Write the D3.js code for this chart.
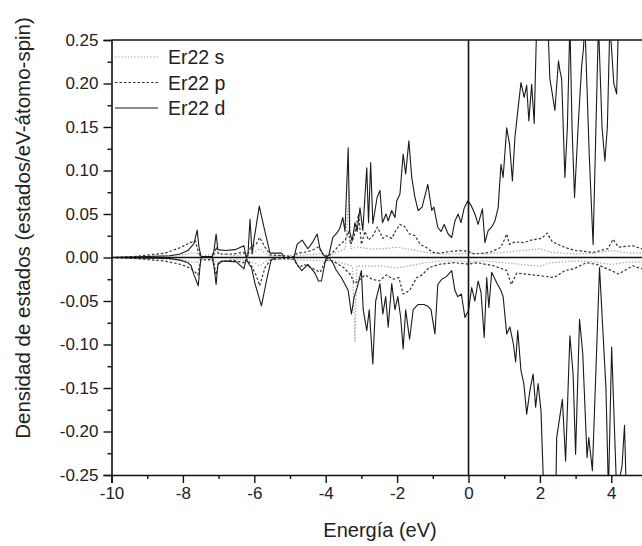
<!DOCTYPE html>
<html>
<head>
<meta charset="utf-8">
<script src="https://cdn.jsdelivr.net/npm/d3@7"></script>
<style>
  body { margin: 0; background: #fff; }
  svg { font-family: Arial, "Liberation Sans", sans-serif; }
</style>
</head>
<body>
<svg id="chart" width="642" height="546"></svg>
<script>
// axis ticks
const xMajor = [-10, -8, -6, -4, -2, 0, 2, 4];
const xMinor = [-9, -7, -5, -3, -1, 1, 3, 5];
const yMajor = [-0.25, -0.20, -0.15, -0.10, -0.05, 0.00, 0.05, 0.10, 0.15, 0.20, 0.25];
const yMinor = [-0.225, -0.175, -0.125, -0.075, -0.025, 0.025, 0.075, 0.125, 0.175, 0.225];

const seriesNames = ["Er22 s", "Er22 p", "Er22 d"];

// [energy (eV), DOS]
const dUp = [
  [-10, 0], [-9.4, 0.0005], [-8.36, 0.002], [-8.08, 0.004], [-7.86, 0.008], [-7.69, 0.016],
  [-7.6, 0.0315], [-7.55, 0.012], [-7.49, 0.001], [-7.18, 0.001], [-7.13, 0.008], [-7.07, 0.027],
  [-7.02, 0.009], [-6.82, 0.008], [-6.54, 0.009], [-6.29, 0.0135], [-6.23, 0.001], [-6.18, 0.002],
  [-6.12, 0.044], [-6.06, 0.004], [-6.01, 0.02], [-5.86, 0.059], [-5.73, 0.035], [-5.56, 0.005],
  [-5.39, 0.005], [-5.23, 0.005], [-5.17, 0], [-4.89, 0], [-4.8, 0.015], [-4.66, 0.02],
  [-4.5, 0.01], [-4.36, 0.018], [-4.24, 0.027], [-4.16, 0.01], [-4.08, 0.004], [-3.99, 0],
  [-3.91, 0.003], [-3.8, 0.023], [-3.69, 0.028], [-3.61, 0.033], [-3.52, 0.046], [-3.46, 0.03],
  [-3.37, 0.126], [-3.33, 0.03], [-3.26, 0.019], [-3.18, 0.04], [-3.12, 0.03], [-3.04, 0.057],
  [-2.96, 0.031], [-2.85, 0.103], [-2.8, 0.04], [-2.74, 0.109], [-2.68, 0.039], [-2.56, 0.069],
  [-2.48, 0.077], [-2.41, 0.04], [-2.31, 0.05], [-2.25, 0.042], [-2.15, 0.054], [-2.06, 0.046],
  [-2.01, 0.065], [-1.92, 0.073], [-1.83, 0.119], [-1.76, 0.096], [-1.67, 0.134], [-1.59, 0.092],
  [-1.5, 0.069], [-1.41, 0.054], [-1.3, 0.058], [-1.14, 0.084], [-1.03, 0.054], [-0.97, 0.058],
  [-0.86, 0.0345], [-0.77, 0.03], [-0.68, 0.038], [-0.57, 0.027], [-0.47, 0.023], [-0.38, 0.042],
  [-0.29, 0.05], [-0.21, 0.04], [-0.12, 0.057], [-0.02, 0.065], [0.07, 0.06], [0.18, 0.05],
  [0.27, 0.038], [0.39, 0.056], [0.46, 0.017], [0.55, 0.031], [0.65, 0.035], [0.74, 0.042],
  [0.83, 0.057], [0.91, 0.107], [0.97, 0.092], [1.07, 0.149], [1.15, 0.13], [1.23, 0.088],
  [1.3, 0.138], [1.39, 0.172], [1.47, 0.201], [1.56, 0.184], [1.63, 0.198], [1.69, 0.157],
  [1.77, 0.199], [1.84, 0.154], [1.91, 0.27], [2.0, 0.35], [2.15, 0.35], [2.23, 0.26],
  [2.28, 0.205], [2.34, 0.19], [2.42, 0.169], [2.52, 0.226], [2.56, 0.215], [2.61, 0.205],
  [2.7, 0.092], [2.77, 0.15], [2.84, 0.27], [2.9, 0.15], [2.97, 0.069], [3.07, 0.15],
  [3.17, 0.22], [3.22, 0.24], [3.26, 0.27], [3.38, 0.12], [3.49, 0.015], [3.57, 0.15],
  [3.64, 0.27], [3.74, 0.15], [3.82, 0.111], [3.89, 0.15], [3.96, 0.27], [4.07, 0.2],
  [4.15, 0.188], [4.2, 0.27], [4.52, 0.35], [5, 0.35]
];

const dDown = [
  [-10, 0], [-8.4, -0.001], [-8.08, -0.003], [-7.86, -0.006], [-7.77, -0.0095], [-7.69, -0.02],
  [-7.57, -0.0325], [-7.52, -0.01], [-7.49, 0], [-7.18, 0], [-7.13, -0.01], [-7.07, -0.031],
  [-7.02, -0.008], [-6.9, -0.004], [-6.5, -0.005], [-6.29, -0.013], [-6.23, -0.002], [-6.14, -0.008],
  [-6.08, -0.0115], [-5.98, -0.03], [-5.8, -0.0555], [-5.65, -0.025], [-5.53, -0.003], [-5.4, 0],
  [-4.9, 0], [-4.8, -0.008], [-4.67, -0.015], [-4.5, -0.008], [-4.3, -0.018], [-4.2, -0.027],
  [-4.12, -0.027], [-4.0, -0.002], [-3.91, 0], [-3.8, -0.006], [-3.7, -0.015], [-3.56, -0.023],
  [-3.37, -0.038], [-3.28, -0.065], [-3.2, -0.045], [-3.12, -0.035], [-3.0, -0.015], [-2.95, -0.06],
  [-2.85, -0.084], [-2.78, -0.06], [-2.68, -0.1225], [-2.6, -0.05], [-2.48, -0.03], [-2.4, -0.065],
  [-2.32, -0.045], [-2.25, -0.08], [-2.15, -0.03], [-2.06, -0.06], [-1.98, -0.045], [-1.9, -0.069],
  [-1.83, -0.105], [-1.76, -0.06], [-1.65, -0.094], [-1.55, -0.06], [-1.41, -0.054], [-1.25, -0.054],
  [-1.14, -0.056], [-1.05, -0.06], [-0.94, -0.088], [-0.86, -0.031], [-0.75, -0.025], [-0.62, -0.022],
  [-0.47, -0.015], [-0.38, -0.038], [-0.3, -0.045], [-0.2, -0.042], [-0.1, -0.069], [0.0, -0.061],
  [0.09, -0.0345], [0.18, -0.05], [0.27, -0.027], [0.35, -0.04], [0.44, -0.092], [0.51, -0.023],
  [0.57, -0.0575], [0.65, -0.017], [0.8, -0.03], [0.91, -0.038], [0.97, -0.045], [1.07, -0.088],
  [1.16, -0.08], [1.26, -0.1], [1.32, -0.12], [1.38, -0.084], [1.47, -0.13], [1.55, -0.145],
  [1.63, -0.18], [1.72, -0.153], [1.81, -0.134], [1.88, -0.172], [1.95, -0.145], [2.03, -0.176],
  [2.1, -0.26], [2.2, -0.35], [2.4, -0.3], [2.45, -0.26], [2.47, -0.207], [2.63, -0.163],
  [2.72, -0.234], [2.84, -0.09], [2.93, -0.134], [3.0, -0.226], [3.11, -0.071], [3.2, -0.11],
  [3.32, -0.23], [3.37, -0.207], [3.47, -0.245], [3.67, -0.0115], [3.85, -0.15], [3.92, -0.27],
  [4.01, -0.103], [4.15, -0.27], [4.3, -0.24], [4.37, -0.193], [4.42, -0.27], [4.6, -0.35],
  [5, -0.35]
];

const pUp = [
  [-10, 0], [-9.4, 0.001], [-8.5, 0.005], [-8.06, 0.0115], [-7.8, 0.017], [-7.65, 0.019],
  [-7.58, 0.008], [-7.5, 0.001], [-7.15, 0.001], [-7.07, 0.012], [-7.0, 0.004], [-6.6, 0.004],
  [-6.3, 0.006], [-6.22, 0.001], [-6.1, 0.012], [-5.95, 0.015], [-5.85, 0.023], [-5.7, 0.012],
  [-5.55, 0.003], [-5.2, 0.002], [-4.9, 0.001], [-4.8, 0.005], [-4.6, 0.006], [-4.4, 0.008],
  [-4.2, 0.012], [-4.05, 0.002], [-3.9, 0.002], [-3.75, 0.008], [-3.6, 0.015], [-3.45, 0.02],
  [-3.37, 0.03], [-3.3, 0.015], [-3.2, 0.025], [-3.08, 0.05], [-3.0, 0.015], [-2.9, 0.03],
  [-2.8, 0.02], [-2.68, 0.025], [-2.55, 0.035], [-2.4, 0.022], [-2.3, 0.025], [-2.15, 0.022],
  [-2.05, 0.03], [-1.92, 0.038], [-1.8, 0.036], [-1.65, 0.027], [-1.5, 0.025], [-1.35, 0.015],
  [-1.2, 0.012], [-1.0, 0.006], [-0.8, 0.005], [-0.5, 0.007], [-0.2, 0.008], [0.0, 0.007],
  [0.15, 0.004], [0.4, 0.005], [0.6, 0.006], [0.9, 0.0115], [1.0, 0.02], [1.07, 0.027],
  [1.15, 0.015], [1.3, 0.018], [1.55, 0.017], [1.75, 0.02], [2.05, 0.022], [2.2, 0.028],
  [2.35, 0.018], [2.7, 0.0115], [3.0, 0.008], [3.5, 0.006], [3.9, 0.01], [4.05, 0.021],
  [4.2, 0.012], [4.6, 0.0135], [5.0, 0.008]
];

const pDown = [
  [-10, 0], [-9.4, -0.001], [-8.5, -0.004], [-8.06, -0.008], [-7.8, -0.012], [-7.65, -0.017],
  [-7.58, -0.02], [-7.5, -0.003], [-7.15, -0.002], [-7.07, -0.02], [-7.0, -0.005], [-6.6, -0.003],
  [-6.3, -0.006], [-6.2, -0.002], [-6.1, -0.008], [-5.95, -0.02], [-5.85, -0.0325], [-5.7, -0.0115],
  [-5.55, -0.003], [-5.2, -0.001], [-4.9, -0.002], [-4.75, -0.0115], [-4.6, -0.008], [-4.35, -0.013],
  [-4.15, -0.017], [-4.0, -0.003], [-3.8, -0.004], [-3.5, -0.0115], [-3.3, -0.02], [-3.2, -0.03],
  [-3.08, -0.027], [-2.9, -0.02], [-2.7, -0.025], [-2.5, -0.027], [-2.3, -0.02], [-2.1, -0.025],
  [-1.95, -0.023], [-1.83, -0.042], [-1.65, -0.038], [-1.45, -0.023], [-1.3, -0.02], [-1.1, -0.0115],
  [-0.8, -0.0077], [-0.4, -0.006], [0.0, -0.0077], [0.25, -0.006], [0.7, -0.0095], [1.07, -0.015],
  [1.2, -0.031], [1.35, -0.018], [1.6, -0.019], [2.0, -0.021], [2.4, -0.023], [2.7, -0.015],
  [2.95, -0.013], [3.3, -0.006], [3.6, -0.008], [4.0, -0.015], [4.2, -0.019], [4.6, -0.0095],
  [5.0, -0.015]
];

const sUp = [
  [-10, 0], [-9.0, 0.001], [-8.0, 0.003], [-7.6, 0.006], [-7.5, 0.001], [-7.07, 0.005],
  [-6.5, 0.002], [-6.0, 0.006], [-5.85, 0.01], [-5.6, 0.002], [-4.5, 0.003], [-4.2, 0.004],
  [-3.8, 0.004], [-3.45, 0.01], [-3.34, 0.077], [-3.3, 0.01], [-3.1, 0.012], [-2.8, 0.01],
  [-2.4, 0.01], [-2.0, 0.012], [-1.6, 0.009], [-1.2, 0.006], [-0.8, 0.004], [-0.3, 0.004],
  [0.0, 0.005], [0.5, 0.004], [1.0, 0.006], [1.5, 0.008], [2.0, 0.01], [2.3, 0.006],
  [3.0, 0.004], [3.5, 0.005], [4.0, 0.008], [4.5, 0.005], [5.0, 0.005]
];

const sDown = [
  [-10, 0], [-9.0, -0.001], [-8.0, -0.003], [-7.6, -0.006], [-7.5, -0.001], [-7.07, -0.005],
  [-6.5, -0.002], [-6.0, -0.006], [-5.85, -0.01], [-5.6, -0.002], [-4.5, -0.003], [-4.2, -0.004],
  [-3.8, -0.004], [-3.4, -0.008], [-3.25, -0.01], [-3.18, -0.096], [-3.13, -0.01], [-2.8, -0.01],
  [-2.4, -0.01], [-2.0, -0.012], [-1.6, -0.009], [-1.2, -0.006], [-0.8, -0.004], [-0.3, -0.004],
  [0.0, -0.005], [0.5, -0.004], [1.0, -0.006], [1.5, -0.008], [2.0, -0.01], [2.3, -0.006],
  [3.0, -0.004], [3.5, -0.005], [4.0, -0.008], [4.5, -0.005], [5.0, -0.005]
];

const svg = d3.select("#chart");

const x = d3.scaleLinear().domain([-10, 5]).range([111.5, 647]);
const y = d3.scaleLinear().domain([-0.25, 0.25]).range([475, 40]);

// clip to plot area
svg.append("defs").append("clipPath")
    .attr("id", "plot-clip")
    .append("rect")
    .attr("x", x(-10))
    .attr("y", y(0.25))
    .attr("width", x(5) - x(-10))
    .attr("height", y(-0.25) - y(0.25));

const line = d3.line()
    .x(d => x(d[0]))
    .y(d => y(d[1]));

const styles = {
  s: { stroke: "#9a9a9a", width: 1.2, dash: "1.2,2" },
  p: { stroke: "#333", width: 1.2, dash: "2.5,2" },
  d: { stroke: "#1a1a1a", width: 1.1, dash: null }
};

const curves = svg.append("g").attr("clip-path", "url(#plot-clip)");

function drawSeries(data, st) {
  curves.append("path")
      .datum(data)
      .attr("fill", "none")
      .attr("stroke", st.stroke)
      .attr("stroke-width", st.width)
      .attr("stroke-dasharray", st.dash)
      .attr("stroke-linejoin", "round")
      .attr("d", line);
}

drawSeries(sUp, styles.s);
drawSeries(sDown, styles.s);
drawSeries(pUp, styles.p);
drawSeries(pDown, styles.p);
drawSeries(dUp, styles.d);
drawSeries(dDown, styles.d);

// zero lines
svg.append("line")
    .attr("x1", x(-10)).attr("x2", x(5))
    .attr("y1", y(0)).attr("y2", y(0))
    .attr("stroke", "#111").attr("stroke-width", 1.6);
svg.append("line")
    .attr("x1", x(0)).attr("x2", x(0))
    .attr("y1", y(0.25)).attr("y2", y(-0.25))
    .attr("stroke", "#111").attr("stroke-width", 1.6);

// top frame line
svg.append("line")
    .attr("x1", x(-10)).attr("x2", x(5))
    .attr("y1", y(0.25)).attr("y2", y(0.25))
    .attr("stroke", "#111").attr("stroke-width", 1.6);

// axes
const xAxis = svg.append("g")
    .attr("transform", `translate(0,${y(-0.25)})`)
    .call(d3.axisBottom(x).tickValues(xMajor).tickSize(8).tickPadding(4).tickFormat(d3.format("d")));
svg.append("g")
    .attr("transform", `translate(0,${y(-0.25)})`)
    .call(d3.axisBottom(x).tickValues(xMinor).tickSize(4).tickFormat(""))
    .call(g => g.select(".domain").remove());

const yAxis = svg.append("g")
    .attr("transform", `translate(${x(-10)},0)`)
    .call(d3.axisLeft(y).tickValues(yMajor).tickSize(8).tickPadding(5).tickFormat(d3.format(".2f")));
svg.append("g")
    .attr("transform", `translate(${x(-10)},0)`)
    .call(d3.axisLeft(y).tickValues(yMinor).tickSize(4).tickFormat(""))
    .call(g => g.select(".domain").remove());

svg.selectAll(".domain").attr("stroke", "#111").attr("stroke-width", 1.6);
svg.selectAll(".tick line").attr("stroke", "#111").attr("stroke-width", 1.4);
svg.selectAll(".tick text")
    .attr("fill", "#222")
    .style("font-size", "17px")
    .style("font-family", "Arial, 'Liberation Sans', sans-serif");
xAxis.selectAll(".tick text").text(d => d < 0 ? "-" + Math.abs(d) : d);
yAxis.selectAll(".tick text").text(d => d3.format(".2f")(d).replace("\u2212", "-"));

// axis titles
svg.append("text")
    .attr("x", 380)
    .attr("y", 537)
    .attr("text-anchor", "middle")
    .attr("fill", "#222")
    .style("font-size", "20px")
    .text("Energía (eV)");

svg.append("text")
    .attr("transform", "translate(30,228) rotate(-90)")
    .attr("text-anchor", "middle")
    .attr("fill", "#222")
    .style("font-size", "20.5px")
    .text("Densidad de estados (estados/eV-átomo-spin)");

// legend
const legend = svg.append("g");
const legendStyles = [styles.s, styles.p, styles.d];
seriesNames.forEach((name, i) => {
  const cy = 57 + i * 25.5;
  const st = legendStyles[i];
  legend.append("line")
      .attr("x1", 115).attr("x2", 158)
      .attr("y1", cy).attr("y2", cy)
      .attr("stroke", st.stroke)
      .attr("stroke-width", st.width)
      .attr("stroke-dasharray", st.dash);
  legend.append("text")
      .attr("x", 168)
      .attr("y", cy + 7)
      .attr("fill", "#222")
      .style("font-size", "19.5px")
      .text(name);
});
</script>
</body>
</html>
